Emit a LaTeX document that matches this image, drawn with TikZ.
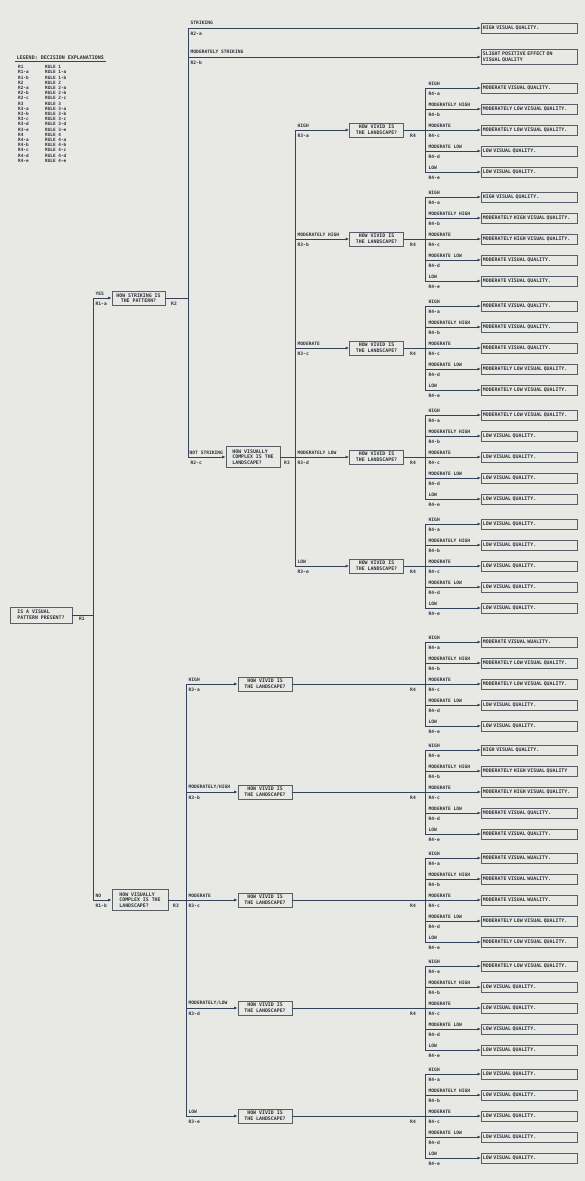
\documentclass[tikz,border=0pt]{standalone}
\usepackage{fontspec}
\newfontfamily\plotfont{DejaVu Sans Mono}
\usetikzlibrary{arrows.meta,positioning}
\definecolor{paper}{HTML}{E8E8E5}
\definecolor{ink}{HTML}{2A2F38}
\definecolor{wire}{HTML}{35425A}
\definecolor{frame}{HTML}{585D66}
\newcommand{\levelname}[1]{\ifcase#1\or HIGH\or MODERATELY HIGH\or MODERATE\or MODERATE LOW\or LOW\fi}
\newcommand{\levelcode}[1]{\ifcase#1\or a\or b\or c\or d\or e\fi}
\tikzset{
  base/.style={font=\plotfont\bfseries\fontsize{4.9}{5.6}\selectfont,text=ink,inner sep=1.5pt},
  ask/.style={base,draw=frame,line width=0.7pt,align=center,minimum height=14pt},
  result/.style={base,draw=frame,line width=0.7pt,align=left,anchor=west,text width=93pt,minimum height=10pt},
  tag/.style={base,font=\plotfont\bfseries\fontsize{4.6}{5}\selectfont,inner sep=0.5pt},
  legendrow/.style={base,font=\plotfont\bfseries\fontsize{4.4}{5}\selectfont,inner sep=0pt,anchor=west},
  wire/.style={draw=wire,line width=0.8pt},
  flow/.style={wire,-{Latex[length=3.5pt,width=3pt]}}
}
\begin{document}
\begin{tikzpicture}[x=1pt,y=-1pt]
\fill[paper] (0,0) rectangle (585,1181);
\useasboundingbox (0,0) rectangle (585,1181);

\node[base,anchor=west,font=\plotfont\bfseries\fontsize{5}{6}\selectfont] (legendtitle) at (15,58) {LEGEND: DECISION EXPLANATIONS};
\draw[wire,line width=0.8pt] (legendtitle.south west) -- (legendtitle.south east);
\foreach [count=\i] \code/\rulename in {R1/RULE 1,R1-a/RULE 1-a,R1-b/RULE 1-b,R2/RULE 2,R2-a/RULE 2-a,R2-b/RULE 2-b,R2-c/RULE 2-c,R3/RULE 3,R3-a/RULE 3-a,R3-b/RULE 3-b,R3-c/RULE 3-c,R3-d/RULE 3-d,R3-e/RULE 3-e,R4/RULE 4,R4-a/RULE 4-a,R4-b/RULE 4-b,R4-c/RULE 4-c,R4-d/RULE 4-d,R4-e/RULE 4-e}{
  \pgfmathsetmacro{\ly}{67+5.2*(\i-1)}
  \node[legendrow] (key\i) at (18,\ly) {\code};
  \node[legendrow] (rule\i) at (45,\ly) {\rulename};
}

\node[ask,align=left,minimum width=62pt,minimum height=16pt] (present) at (41,615) {IS A VISUAL\\PATTERN PRESENT?};
\node[tag,below right=1pt and 6pt of present.east] (r1tag) {R1};
\coordinate (r1) at (93,615);
\coordinate (r1a) at (93,298);
\coordinate (r1b) at (93,900);
\draw[wire] (present) -- (r1);
\draw[wire] (r1a) -- (r1b);

\node[ask,minimum width=53pt] (striking) at (138.5,298) {HOW STRIKING IS\\THE PATTERN?};
\node[tag,anchor=south west] (yestag) at (95,296) {YES};
\node[tag,anchor=north west] (r1atag) at (95,301) {R1-a};
\draw[flow] (r1a) -- (striking);
\node[tag,anchor=north] (r2tag) at (174,301) {R2};

\node[ask,align=left,minimum width=56pt,minimum height=21pt] (complexL) at (140,900) {HOW VISUALLY\\COMPLEX IS THE\\LANDSCAPE?};
\node[tag,anchor=south west] (notag) at (95,898) {NO};
\node[tag,anchor=north west] (r1btag) at (95,903) {R1-b};
\draw[flow] (r1b) -- (complexL);
\node[tag,anchor=north] (r3tagL) at (176,903) {R3};

\coordinate (r2a) at (188,28);
\coordinate (r2b) at (188,57);
\coordinate (r2s) at (188,298);
\coordinate (r2c) at (188,457);
\draw[wire] (r2a) -- (r2c);
\draw[wire] (striking) -- (r2s);
\node[result] (hvq) at (481,28) {HIGH VISUAL QUALITY.};
\node[result,minimum height=15pt] (slight) at (481,57) {SLIGHT POSITIVE EFFECT ON\\VISUAL QUALITY};
\node[tag,anchor=south west] (strtag) at (190,25) {STRIKING};
\node[tag,anchor=north west] (r2atag) at (190,31) {R2-a};
\node[tag,anchor=south west] (modstrtag) at (190,54) {MODERATELY STRIKING};
\node[tag,anchor=north west] (r2btag) at (190,60) {R2-b};
\draw[flow] (r2a) -- (hvq);
\draw[flow] (r2b) -- (slight);

\node[ask,align=left,minimum width=54pt,minimum height=21pt] (complexU) at (253,457) {HOW VISUALLY\\COMPLEX IS THE\\LANDSCAPE?};
\node[tag,anchor=south west] (notstrtag) at (189,455) {NOT STRIKING};
\node[tag,anchor=north west] (r2ctag) at (190,460) {R2-c};
\draw[flow] (r2c) -- (complexU);
\node[tag,anchor=north] (r3tagU) at (287,460) {R3};

\foreach [count=\k] \fan/\cy/\rx/\vx/\lvl/\res in {
  ua/130/295/376.5/HIGH/{MODERATE VISUAL QUALITY.,MODERATELY LOW VISUAL QUALITY.,MODERATELY LOW VISUAL QUALITY.,LOW VISUAL QUALITY.,LOW VISUAL QUALITY.},
  ub/239/295/376.5/MODERATELY HIGH/{HIGH VISUAL QUALITY.,MODERATELY HIGH VISUAL QUALITY.,MODERATELY HIGH VISUAL QUALITY.,MODERATE VISUAL QUALITY.,MODERATE VISUAL QUALITY.},
  uc/348/295/376.5/MODERATE/{MODERATE VISUAL QUALITY.,MODERATE VISUAL QUALITY.,MODERATE VISUAL QUALITY.,MODERATELY LOW VISUAL QUALITY.,MODERATELY LOW VISUAL QUALITY.},
  ud/457/295/376.5/MODERATELY LOW/{MODERATELY LOW VISUAL QUALITY.,LOW VISUAL QUALITY.,LOW VISUAL QUALITY.,LOW VISUAL QUALITY.,LOW VISUAL QUALITY.},
  ue/566/295/376.5/LOW/{LOW VISUAL QUALITY.,LOW VISUAL QUALITY.,LOW VISUAL QUALITY.,LOW VISUAL QUALITY.,LOW VISUAL QUALITY.},
  la/684/186/265/HIGH/{MODERATE VISUAL WUALITY.,MODERATELY LOW VISUAL QUALITY.,MODERATELY LOW VISUAL QUALITY.,LOW VISUAL QUALITY.,LOW VISUAL QUALITY.},
  lb/792/186/265/{MODERATELY/HIGH}/{HIGH VISUAL QUALITY.,MODERATELY HIGH VISUAL QUALITY,MODERATELY HIGH VISUAL QUALITY.,MODERATE VISUAL QUALITY.,MODERATE VISUAL QUALITY.},
  lc/900/186/265/MODERATE/{MODERATE VISUAL WUALITY.,MODERATE VISUAL WUALITY.,MODERATE VISUAL WUALITY.,MODERATELY LOW VISUAL QUALITY.,MODERATELY LOW VISUAL QUALITY.},
  ld/1008/186/265/{MODERATELY/LOW}/{MODERATELY LOW VISUAL QUALITY.,LOW VISUAL QUALITY.,LOW VISUAL QUALITY.,LOW VISUAL QUALITY.,LOW VISUAL QUALITY.},
  le/1116/186/265/LOW/{LOW VISUAL QUALITY.,LOW VISUAL QUALITY.,LOW VISUAL QUALITY.,LOW VISUAL QUALITY.,LOW VISUAL QUALITY.}}{
  \pgfmathtruncatemacro{\pos}{mod(\k-1,5)+1}
  \coordinate (\fan-r3) at (\rx,\cy);
  \node[ask,minimum width=54pt] (\fan-ask) at (\vx,\cy) {HOW VIVID IS\\THE LANDSCAPE?};
  \node[tag,anchor=south west] (\fan-lvl) at (\rx+2,\cy-2) {\lvl};
  \node[tag,anchor=north west] (\fan-code) at (\rx+2,\cy+3) {R3-\levelcode{\pos}};
  \draw[flow] (\fan-r3) -- (\fan-ask);
  \node[tag,anchor=north] (\fan-r4) at (413,\cy+3) {R4};
  \foreach [count=\i] \txt in \res {
    \pgfmathsetmacro{\ry}{\cy+(\i-3)*21}
    \coordinate (\fan-tap\i) at (425,\ry);
    \node[result] (\fan-\i) at (481,\ry) {\txt};
    \node[tag,anchor=south west] (\fan-lvl\i) at (428,\ry-2) {\levelname{\i}};
    \node[tag,anchor=north west] (\fan-code\i) at (428,\ry+3) {R4-\levelcode{\i}};
    \draw[flow] (\fan-tap\i) -- (\fan-\i);
  }
  \draw[wire] (\fan-tap1) -- (\fan-tap5);
  \draw[wire] (\fan-ask) -- (\fan-tap3);
}
\draw[wire] (ua-r3) -- (ue-r3);
\draw[wire] (la-r3) -- (le-r3);
\draw[wire] (complexU) -- (ud-r3);
\draw[wire] (complexL) -- (lc-r3);
\end{tikzpicture}
\end{document}
